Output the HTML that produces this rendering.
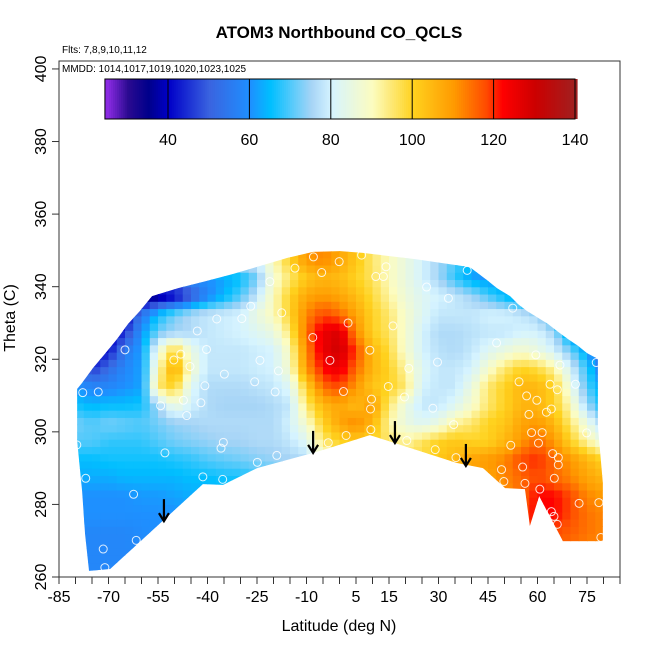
<!DOCTYPE html>
<html><head><meta charset="utf-8">
<style>
html,body{margin:0;padding:0;background:#fff;}
svg text{font-family:"Liberation Sans",Arial,sans-serif;}
</style></head>
<body>
<svg id="chart" width="650" height="650" viewBox="0 0 650 650" xmlns="http://www.w3.org/2000/svg">
<defs><clipPath id="dataClip"><polygon id="clipPoly" points=""/></clipPath></defs>
<text x="339" y="38" text-anchor="middle" font-size="17" font-weight="bold">ATOM3 Northbound CO_QCLS</text>
<text x="62" y="53" font-size="10">Flts: 7,8,9,10,11,12</text>
<g id="heat" clip-path="url(#dataClip)"></g>
<g id="pts"></g>
<g id="arrows"></g>
<rect x="59" y="61" width="561" height="516" fill="none" stroke="#333" stroke-width="1"/>
<text x="62" y="72" font-size="10">MMDD: 1014,1017,1019,1020,1023,1025</text>
<g id="cbar"></g>
<g id="xaxis"></g>
<g id="yaxis"></g>
<text x="339" y="631" text-anchor="middle" font-size="16">Latitude (deg N)</text>
<text transform="translate(15,318) rotate(-90)" text-anchor="middle" font-size="16">Theta (C)</text>
</svg>
<script>
const lats=[-80,-75,-70,-65,-60,-55,-50,-45,-40,-35,-30,-25,-20,-15,-10,-5,0,5,10,15,20,25,30,35,40,45,50,55,60,65,70,75,80];
const thetas=[262.5,267.5,272.5,277.5,282.5,287.5,292.5,297.5,302.5,307.5,312.5,317.5,322.5,327.5,332.5,337.5,342.5,347.5];
const coValues=[
[58,58,58,58,58,60,60,62,62,64,64,66,68,70,75,80,90,95,100,105,108,110,112,112,112,112,112,112,112,112,112,112,112],
[58,58,58,58,58,60,60,62,62,64,64,66,68,70,75,80,90,95,100,105,108,110,112,112,112,112,112,114,116,116,114,112,112],
[58,58,58,58,59,60,60,62,62,64,64,66,68,70,75,80,90,95,100,105,108,110,112,112,112,112,112,115,118,118,116,114,112],
[60,60,60,60,60,60,60,62,63,64,64,66,68,70,75,80,90,95,100,105,108,110,112,112,112,112,114,118,122,122,118,114,112],
[60,60,60,60,61,61,62,63,63,64,65,66,68,70,75,80,90,95,100,105,108,110,112,112,110,110,110,115,122,122,118,112,110],
[63,63,63,64,64,64,64,65,65,66,66,68,70,72,76,82,90,95,100,103,105,106,106,106,108,108,112,115,118,115,112,108,105],
[65,65,66,66,66,66,67,68,70,71,72,73,74,75,76,85,95,100,100,98,97,98,102,105,108,110,112,118,120,115,110,105,100],
[70,70,68,68,68,70,72,73,74,75,75,76,76,78,82,95,100,102,100,95,92,96,100,102,100,100,105,110,115,110,100,92,85],
[72,70,72,71,70,72,74,75,76,76,76,76,76,80,88,100,108,112,105,92,85,82,85,92,95,100,102,108,110,105,95,85,75],
[66,64,65,65,66,75,86,80,76,75,75,75,76,78,95,105,108,104,110,95,85,78,78,82,88,95,100,105,105,100,90,75,65],
[60,58,58,60,62,95,100,82,76,76,76,77,78,82,100,115,118,110,102,100,95,80,78,78,85,95,100,105,105,100,85,70,62],
[55,45,52,58,62,90,108,88,78,78,78,79,80,88,110,122,125,115,105,100,92,82,78,78,80,88,95,100,98,92,80,68,55],
[50,38,42,55,62,85,100,85,78,78,78,79,80,90,112,125,130,118,105,98,88,80,77,76,78,82,85,88,85,80,72,62,50],
[35,35,38,45,60,72,75,76,78,79,80,82,85,95,115,125,128,112,100,96,88,80,76,76,77,78,78,80,80,75,60,50,45],
[35,35,35,38,55,65,72,76,78,79,80,85,90,100,112,118,115,108,100,95,88,82,78,78,78,80,80,78,75,65,55,45,40],
[32,32,32,32,32,35,40,48,58,64,70,78,90,100,108,110,108,104,98,92,86,82,80,78,75,70,65,60,55,50,45,40,40],
[55,55,55,55,55,55,55,58,60,62,65,72,88,95,102,105,104,100,96,90,85,80,75,68,62,60,60,60,60,60,60,60,60],
[60,60,60,60,60,65,70,75,78,80,80,80,90,100,110,112,108,102,95,90,85,80,75,70,65,60,60,60,60,60,60,60,60]];
const boundaryLat=[-75.9,-69.5,-41.4,-35.3,-25.0,-8.0,-3.2,9.2,35.6,43.5,50.2,56.2,57.7,60.5,67.7,79.8,79.8,78.3,78.3,75.0,72.3,69.2,65.9,63.2,60.2,56.8,54.1,51.7,47.7,45.0,39.5,22.9,7.1,0.2,-8.0,-15.9,-24.1,-32.3,-40.2,-48.9,-56.8,-60.5,-64.1,-67.4,-71.1,-74.7,-78.0,-79.5,-79.5,-78.0,-77.1];
const boundaryTheta=[261.7,262.2,285.6,285.4,290.0,294.2,295.5,299.1,291.4,290.0,284.5,284.2,274.1,282.3,269.9,269.9,285.9,301.6,320.1,321.7,323.7,325.6,327.8,329.7,331.4,333.3,335.2,337.4,339.6,341.6,345.4,347.6,349.3,349.8,349.6,347.9,345.7,343.5,341.6,339.6,337.4,333.3,329.7,325.6,321.5,317.6,313.5,311.8,297.5,283.7,271.8];
const pointLat=[-7.9,-13.5,-5.4,-21.1,-26.9,-17.5,-37.2,-29.6,-43.1,-40.3,-65.0,-8.1,-2.9,-50.2,-48.1,-45.3,-24.1,-18.5,-34.9,-25.7,-40.8,-19.5,-73.1,-77.8,-47.3,-42.0,-54.2,-46.3,-79.6,-35.2,-35.9,-52.9,-3.4,-19.0,-24.9,-76.9,-41.4,-35.4,-62.4,-61.6,-71.6,-71.1,
6.7,-0.1,14.1,38.7,11.0,13.3,26.4,33.0,52.5,2.6,16.2,47.6,59.5,9.2,29.7,66.8,77.8,21.0,54.4,63.8,66.0,71.5,14.8,1.2,9.7,19.7,56.7,59.8,28.3,9.4,64.2,62.7,57.4,34.6,9.5,58.2,61.4,74.9,2.0,20.4,51.9,60.3,29.0,64.6,66.3,35.3,66.3,55.5,49.1,65.1,49.8,56.2,60.7,72.6,78.6,64.2,65.0,66.0,79.2];
const pointTheta=[348.2,345.1,343.9,341.4,334.6,332.8,331.1,331.2,327.8,322.7,322.6,326.0,319.7,319.8,321.4,318.0,319.7,316.8,315.9,313.8,312.7,311.0,311.0,310.8,308.7,308.0,307.2,304.5,296.4,297.1,295.5,294.2,297.0,293.5,291.6,287.2,287.6,286.9,282.8,270.1,267.7,262.6,
348.7,346.9,345.5,344.5,342.8,342.8,339.9,336.8,334.1,330.0,329.2,324.5,321.2,322.5,319.2,318.4,319.1,317.5,313.8,313.1,311.6,313.1,312.5,311.1,309.0,309.6,309.9,308.7,306.5,306.3,306.3,305.4,304.8,302.0,300.6,299.8,299.8,299.7,299.0,297.6,296.3,296.9,295.1,294.0,292.9,292.9,290.9,290.3,289.6,287.2,286.3,285.8,284.2,280.3,280.5,278.0,276.7,274.5,270.9];
const arrowLat=[-53.2,-8.0,16.8,38.3];
const arrowTheta=[275.4,294.2,296.9,290.6];
const xTicks=[-85,-80,-75,-70,-65,-60,-55,-50,-45,-40,-35,-30,-25,-20,-15,-10,-5,0,5,10,15,20,25,30,35,40,45,50,55,60,65,70,75,80,85];
const xLabels=[-85,-70,-55,-40,-25,-10,5,15,30,45,60,75];
const yTicks=[260,280,300,320,340,360,380,400];
const cbTicks=[40,60,80,100,120,140];
const stopVals=[25,30,35,40,50,60,65,75,80,90,100,110,118,122,130,140];
const stopCols=["#8a2be2","#2a0a90","#00008b","#0000c8","#3a64e0","#1e90ff","#00bfff","#a6d4f6","#d6f4ff","#fcfcc0","#ffd21e","#ff9a00","#ff4a00","#ff0000","#cc0000","#a02020"];

const NS="http://www.w3.org/2000/svg";
const X=l=>59+(l+85)*3.3, Y=t=>577-(t-260)*3.629;
const CX=v=>168+(v-40)*4.07;
function hex(c){return [1,3,5].map(i=>parseInt(c.substr(i,2),16));}
function color(v){
  if(v<=stopVals[0])return stopCols[0];
  for(let i=1;i<stopVals.length;i++){if(v<=stopVals[i]){const f=(v-stopVals[i-1])/(stopVals[i]-stopVals[i-1]);const a=hex(stopCols[i-1]),b=hex(stopCols[i]);return "rgb("+a.map((x,k)=>Math.round(x+(b[k]-x)*f)).join(",")+")";}}
  return stopCols[stopCols.length-1];
}
function mk(tag,attrs,parent){const e=document.createElementNS(NS,tag);for(const k in attrs)e.setAttribute(k,attrs[k]);parent.appendChild(e);return e;}
document.getElementById('clipPoly').setAttribute('points',boundaryLat.map((l,i)=>X(l)+","+Y(boundaryTheta[i])).join(" "));
function interp(lat,th){
  let fi=(lat-lats[0])/(lats[1]-lats[0]), fj=(th-thetas[0])/(thetas[1]-thetas[0]);
  fi=Math.max(0,Math.min(lats.length-1,fi)); fj=Math.max(0,Math.min(thetas.length-1,fj));
  const i0=Math.min(Math.floor(fi),lats.length-2), j0=Math.min(Math.floor(fj),thetas.length-2);
  const a=fi-i0,b=fj-j0;
  return coValues[j0][i0]*(1-a)*(1-b)+coValues[j0][i0+1]*a*(1-b)+coValues[j0+1][i0]*(1-a)*b+coValues[j0+1][i0+1]*a*b;
}
const heat=document.getElementById('heat');
const dl=2.5, dt=2;
for(let t=260;t<350;t+=dt){for(let l=-82.5;l<82.5;l+=dl){
  const v=interp(l+dl/2,t+dt/2);
  const r=mk('rect',{x:X(l).toFixed(2),y:Y(t+dt).toFixed(2),width:(dl*3.3+0.6).toFixed(2),height:(dt*3.629+0.6).toFixed(2),fill:color(v)},heat);
  
  
}}
const pts=document.getElementById('pts');
pointLat.forEach((l,i)=>{const c=mk('circle',{cx:X(l),cy:Y(pointTheta[i]),r:4,fill:"none",stroke:"#fff","stroke-width":1,opacity:0.85},pts);
  
  });
const ar=document.getElementById('arrows');
arrowLat.forEach((l,i)=>{const x=X(l),y=Y(arrowTheta[i]);const g=mk('g',{},ar);
  
  
  mk('line',{x1:x,y1:y-22,x2:x,y2:y-1,stroke:"#000","stroke-width":2.2},g);
  mk('path',{d:`M${x-5},${y-8} L${x},${y} L${x+5},${y-8}`,fill:"none",stroke:"#000","stroke-width":2.2},g);});
// colorbar
const cb=document.getElementById('cbar');
for(let v=24.5;v<140.5;v+=0.5){const r=mk('rect',{x:CX(v).toFixed(2),y:79,width:2.6,height:40,fill:color(v)},cb);
  
  }
mk('rect',{x:CX(24.5),y:79,width:CX(140)-CX(24.5),height:40,fill:"none",stroke:"#000","stroke-width":1},cb);
cbTicks.forEach(v=>{mk('line',{x1:CX(v),y1:79,x2:CX(v),y2:119,stroke:"#000","stroke-width":1},cb);
  const t=mk('text',{x:CX(v),y:145,"text-anchor":"middle","font-size":16},cb);t.textContent=v;
  
  });
// axes
const xa=document.getElementById('xaxis');
xTicks.forEach(v=>mk('line',{x1:X(v),y1:577,x2:X(v),y2:584,stroke:"#333"},xa));
xLabels.forEach(v=>{const t=mk('text',{x:X(v),y:602,"text-anchor":"middle","font-size":16},xa);t.textContent=v;
  
  });
const ya=document.getElementById('yaxis');
yTicks.forEach(v=>{mk('line',{x1:52,y1:Y(v),x2:59,y2:Y(v),stroke:"#333"},ya);
  const t=mk('text',{transform:`translate(46,${Y(v)}) rotate(-90)`,"text-anchor":"middle","font-size":16},ya);t.textContent=v;
  
  });
</script>
</body></html>
